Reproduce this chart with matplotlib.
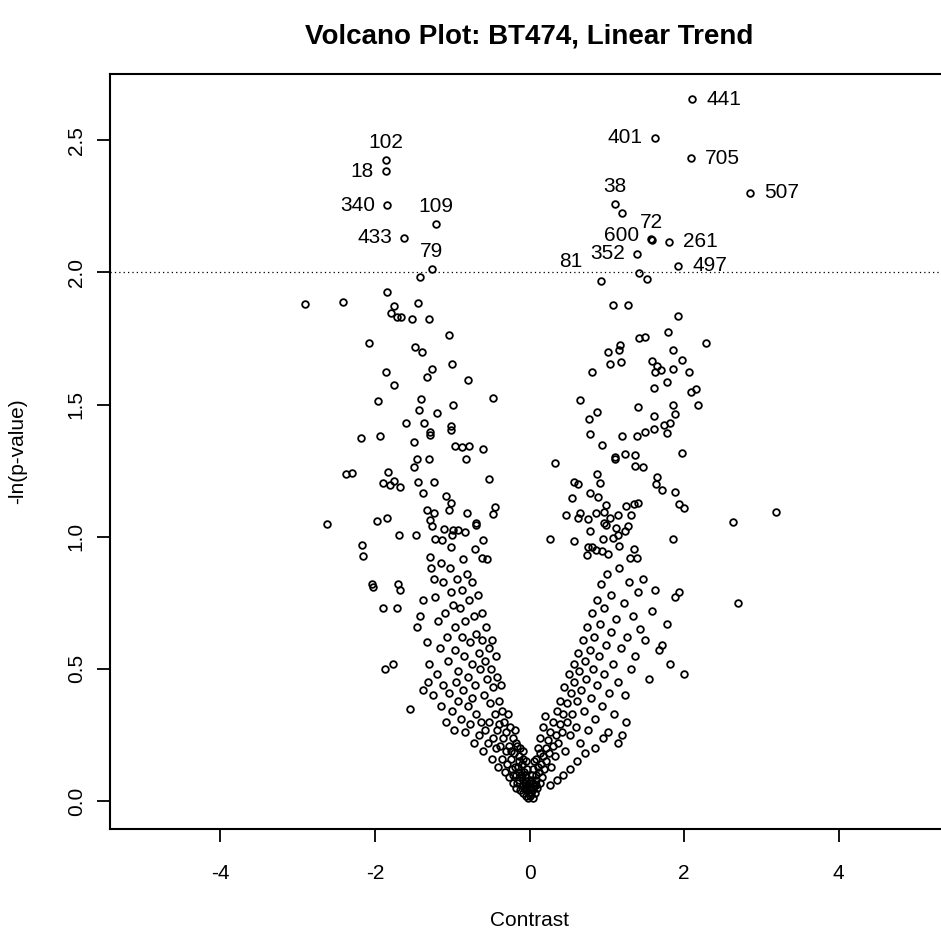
import matplotlib.pyplot as plt
import numpy as np

plt.rcParams['font.family'] = ['Liberation Sans', 'DejaVu Sans']
plt.rcParams['axes.unicode_minus'] = False

# contrast / -ln(p) for every probe (unlabelled ones)
points = [
    (-1.417, 1.981), (-1.847, 1.926), (-2.904, 1.880), (-2.409, 1.888), (-1.749, 1.872),
    (-1.792, 1.848), (-1.718, 1.832), (-1.666, 1.832), (-1.524, 1.822), (-1.446, 1.885),
    (-1.300, 1.822), (-1.041, 1.762), (-2.072, 1.732), (-1.485, 1.717), (-1.391, 1.699),
    (-1.006, 1.652), (-1.853, 1.624), (-1.257, 1.635), (-1.330, 1.605), (-0.796, 1.591),
    (-1.757, 1.572), (-0.472, 1.525), (-1.960, 1.513), (-1.408, 1.519), (-1.426, 1.479),
    (-0.986, 1.497), (-1.201, 1.469), (-1.594, 1.430), (-1.369, 1.430), (-1.287, 1.397),
    (-1.287, 1.384), (-1.019, 1.418), (-1.019, 1.402), (-2.176, 1.374), (-1.934, 1.380),
    (-1.498, 1.358), (-0.968, 1.343), (-0.873, 1.339), (-0.787, 1.344), (-0.602, 1.332),
    (-1.455, 1.293), (-1.304, 1.293), (-0.825, 1.293), (-1.498, 1.263), (0.334, 1.278),
    (-2.378, 1.237), (-2.300, 1.242), (-1.827, 1.243), (-1.895, 1.204), (-1.809, 1.196),
    (-1.757, 1.210), (-1.675, 1.188), (-1.439, 1.205), (-1.235, 1.205), (-0.528, 1.217),
    (-1.382, 1.166), (-1.084, 1.155), (-1.012, 1.128), (-1.038, 1.101), (-1.326, 1.101),
    (-1.239, 1.090), (-0.809, 1.090), (-0.446, 1.113), (-0.468, 1.084), (-0.696, 1.053),
    (-0.696, 1.045), (-1.291, 1.062), (-1.265, 1.041), (-1.106, 1.029), (-0.986, 1.025),
    (-0.921, 1.025), (-0.838, 1.017), (-0.999, 1.006), (-2.620, 1.049), (-1.973, 1.060),
    (-1.843, 1.071), (-1.692, 1.005), (-1.472, 1.005), (-1.226, 0.990), (-1.128, 0.986),
    (-1.012, 0.962), (-0.709, 0.953), (-0.598, 0.986), (-2.171, 0.967), (-2.150, 0.928),
    (-1.287, 0.922), (-0.856, 0.915), (-0.618, 0.919), (-0.554, 0.915), (0.261, 0.992),
    (0.580, 0.982), (0.546, 1.146), (0.580, 1.208), (0.631, 1.198), (0.468, 1.082),
    (0.624, 1.069), (0.650, 1.517),
    (1.193, 2.225), (1.417, 1.996), (1.524, 1.974), (1.076, 1.876), (1.270, 1.876),
    (1.917, 1.834),
    (1.792, 1.773), (2.283, 1.733), (1.417, 1.750), (1.498, 1.755), (1.175, 1.727),
    (1.158, 1.708), (1.019, 1.699), (1.853, 1.706), (1.038, 1.655), (1.180, 1.660),
    (0.812, 1.623), (1.585, 1.663), (1.646, 1.646), (1.697, 1.629), (1.627, 1.623),
    (1.853, 1.634), (1.973, 1.667), (2.063, 1.624), (1.611, 1.561), (1.783, 1.584),
    (2.085, 1.546), (2.154, 1.557), (2.180, 1.497), (0.877, 1.472), (0.766, 1.445),
    (1.400, 1.490), (1.856, 1.498), (1.878, 1.463), (1.611, 1.456), (1.736, 1.423),
    (1.821, 1.429), (0.787, 1.389), (1.197, 1.379), (1.387, 1.380), (1.498, 1.397),
    (1.615, 1.408), (1.783, 1.391), (0.934, 1.346), (1.106, 1.302), (1.106, 1.295),
    (1.239, 1.314), (1.369, 1.309), (1.973, 1.315), (1.369, 1.268), (1.464, 1.263),
    (0.877, 1.237), (0.912, 1.203), (1.653, 1.225), (1.633, 1.198), (1.710, 1.175),
    (1.878, 1.170), (0.783, 1.164), (0.882, 1.152), (0.990, 1.121), (1.248, 1.116),
    (1.356, 1.123), (1.400, 1.127), (1.934, 1.123), (1.999, 1.109), (0.657, 1.088),
    (0.753, 1.068), (0.860, 1.088), (0.968, 1.094), (1.041, 1.069), (1.149, 1.082),
    (1.313, 1.082), (0.968, 1.050), (0.986, 1.043), (1.115, 1.031), (1.278, 1.040),
    (1.239, 1.020), (1.141, 1.007), (1.084, 0.995), (0.787, 1.022), (2.636, 1.055),
    (3.185, 1.094), (0.955, 0.990), (1.162, 0.964), (1.352, 0.952), (1.860, 0.990),
    (0.753, 0.962), (0.805, 0.960), (0.860, 0.949), (0.934, 0.947), (1.019, 0.934),
    (0.740, 0.930), (1.300, 0.918), (1.387, 0.918),
    # lower part of the left arm
    (-2.04, 0.82), (-2.02, 0.81), (-1.89, 0.73), (-1.72, 0.73), (-1.70, 0.82),
    (-1.68, 0.80), (-1.87, 0.50), (-1.77, 0.52), (-1.55, 0.35),
    (-1.45, 0.66), (-1.42, 0.70), (-1.38, 0.76), (-1.33, 0.60), (-1.30, 0.52),
    (-1.27, 0.88), (-1.24, 0.84), (-1.22, 0.77), (-1.19, 0.68), (-1.16, 0.58),
    (-1.15, 0.90), (-1.12, 0.83), (-1.10, 0.71), (-1.07, 0.62), (-1.05, 0.53),
    (-1.03, 0.88), (-1.01, 0.79), (-0.99, 0.74), (-0.97, 0.66), (-0.96, 0.57),
    (-0.94, 0.84), (-0.92, 0.49), (-0.90, 0.73), (-0.88, 0.62), (-0.87, 0.80),
    (-0.85, 0.55), (-0.83, 0.68), (-0.81, 0.86), (-0.80, 0.47), (-0.78, 0.76),
    (-0.77, 0.60), (-0.75, 0.52), (-0.74, 0.83), (-0.72, 0.70), (-0.70, 0.44),
    (-0.69, 0.63), (-0.67, 0.78), (-0.66, 0.56), (-0.64, 0.50), (-0.62, 0.71),
    (-0.61, 0.61), (-0.59, 0.40), (-0.58, 0.53), (-0.56, 0.66), (-0.55, 0.46),
    (-0.53, 0.58), (-0.51, 0.37), (-0.50, 0.50), (-0.48, 0.61), (-0.47, 0.43),
    (-0.45, 0.33), (-0.44, 0.55), (-0.42, 0.47), (-0.40, 0.38), (-0.39, 0.29),
    (-0.37, 0.44), (-0.35, 0.34),
    (-1.38, 0.42), (-1.32, 0.45), (-1.25, 0.40), (-1.20, 0.48), (-1.15, 0.36),
    (-1.12, 0.44), (-1.08, 0.30), (-1.04, 0.41), (-1.00, 0.34), (-0.98, 0.27),
    (-0.95, 0.45), (-0.92, 0.38), (-0.89, 0.31), (-0.86, 0.42), (-0.83, 0.26),
    (-0.80, 0.36), (-0.77, 0.29), (-0.74, 0.39), (-0.72, 0.22), (-0.69, 0.33),
    (-0.66, 0.25), (-0.63, 0.30), (-0.60, 0.19), (-0.57, 0.27), (-0.54, 0.22),
    (-0.52, 0.30), (-0.49, 0.16), (-0.47, 0.24), (-0.44, 0.20), (-0.42, 0.27),
    (-0.41, 0.13), (-0.38, 0.21), (-0.36, 0.16), (-0.34, 0.24), (-0.32, 0.11),
    (-0.31, 0.19), (-0.29, 0.14), (-0.27, 0.21), (-0.26, 0.09), (-0.24, 0.16),
    (-0.23, 0.12), (-0.21, 0.07), (-0.20, 0.18), (-0.18, 0.10), (-0.17, 0.05),
    (-0.15, 0.13), (-0.14, 0.08), (-0.12, 0.04), (-0.11, 0.10), (-0.09, 0.06),
    (-0.08, 0.03), (-0.06, 0.07), (-0.05, 0.02), (-0.03, 0.04), (-0.02, 0.01),
    (-0.01, 0.03), (-0.33, 0.30), (-0.30, 0.26), (-0.28, 0.33), (-0.25, 0.28),
    (-0.22, 0.24), (-0.19, 0.27), (-0.16, 0.21), (-0.13, 0.17), (-0.10, 0.14),
    (-0.07, 0.11), (-0.04, 0.09), (-0.02, 0.06), (-0.05, 0.15), (-0.08, 0.19),
    # dense core around zero
    (-0.22, 0.10), (-0.19, 0.13), (-0.16, 0.07), (-0.13, 0.11), (-0.10, 0.09),
    (-0.07, 0.05), (-0.04, 0.06), (-0.01, 0.05), (0.02, 0.03), (0.05, 0.07),
    (0.08, 0.10), (0.11, 0.13), (0.03, 0.10), (-0.03, 0.12), (-0.09, 0.16),
    (-0.12, 0.20), (0.06, 0.15), (0.09, 0.06), (-0.14, 0.15), (-0.18, 0.22),
    (0.00, 0.07), (-0.06, 0.10), (0.04, 0.05), (0.14, 0.18), (-0.24, 0.19),
    # lower part of the right arm
    (0.01, 0.02), (0.03, 0.04), (0.04, 0.01), (0.06, 0.06), (0.07, 0.03),
    (0.09, 0.08), (0.10, 0.05), (0.12, 0.11), (0.13, 0.07), (0.15, 0.14),
    (0.16, 0.09), (0.18, 0.17), (0.19, 0.12), (0.21, 0.20), (0.22, 0.15),
    (0.24, 0.23), (0.25, 0.18), (0.27, 0.26), (0.28, 0.13), (0.30, 0.21),
    (0.31, 0.30), (0.33, 0.17), (0.34, 0.25), (0.36, 0.34), (0.37, 0.22),
    (0.39, 0.29), (0.40, 0.38), (0.42, 0.26), (0.43, 0.33), (0.45, 0.43),
    (0.46, 0.19), (0.48, 0.30), (0.49, 0.37), (0.51, 0.48), (0.52, 0.25),
    (0.54, 0.41), (0.55, 0.33), (0.57, 0.52), (0.58, 0.45), (0.60, 0.28),
    (0.61, 0.38), (0.63, 0.56), (0.64, 0.49), (0.66, 0.22), (0.67, 0.42),
    (0.69, 0.61), (0.70, 0.34), (0.72, 0.53), (0.73, 0.46), (0.75, 0.66),
    (0.76, 0.27), (0.78, 0.57), (0.79, 0.39), (0.81, 0.71), (0.82, 0.50),
    (0.84, 0.62), (0.85, 0.31), (0.87, 0.76), (0.88, 0.44), (0.90, 0.55),
    (0.91, 0.67), (0.93, 0.82), (0.94, 0.36), (0.96, 0.48), (0.97, 0.73),
    (0.99, 0.59), (1.00, 0.86), (1.02, 0.26), (1.03, 0.41), (1.05, 0.64),
    (1.06, 0.78), (1.08, 0.52), (1.10, 0.33), (1.12, 0.69), (1.14, 0.45),
    (1.16, 0.88), (1.18, 0.58), (1.20, 0.25), (1.22, 0.75), (1.24, 0.40),
    (1.26, 0.62), (1.29, 0.83), (1.31, 0.50), (1.34, 0.70), (1.37, 0.55),
    (1.40, 0.79), (1.43, 0.65), (1.47, 0.84), (1.50, 0.61), (1.55, 0.46),
    (1.58, 0.72), (1.62, 0.80), (1.68, 0.57), (1.72, 0.59), (1.78, 0.67),
    (1.82, 0.52), (1.88, 0.77), (1.93, 0.79), (2.00, 0.48), (2.70, 0.75),
    (1.25, 0.30), (1.15, 0.22), (0.95, 0.24), (0.85, 0.20), (0.72, 0.18),
    (0.62, 0.15), (0.53, 0.12), (0.44, 0.10), (0.35, 0.08), (0.26, 0.06),
    (0.02, 0.08), (0.05, 0.12), (0.08, 0.16), (0.11, 0.20), (0.14, 0.24),
    (0.17, 0.28), (0.20, 0.32),
]
contrast = np.array([p[0] for p in points])
neg_log_p = np.array([p[1] for p in points])

# probes passing the cut-off, with their ids
gene_ids = ["102", "18", "340", "109", "433", "79", "441", "401", "705", "507",
            "38", "72", "600", "261", "352", "81", "497"]
gene_x = [-1.860, -1.860, -1.840, -1.213, -1.620, -1.265, 2.106, 1.620, 2.085, 2.853,
          1.106, 1.581, 1.578, 1.805, 1.387, 0.921, 1.925]
gene_y = [2.424, 2.383, 2.254, 2.181, 2.131, 2.011, 2.654, 2.510, 2.431, 2.301,
          2.258, 2.122, 2.125, 2.115, 2.071, 1.967, 2.025]
# where each id is written relative to its point (offset in points, alignment)
label_place = {"above": ((0, 13), "center"), "left": ((-8.5, 0), "right"),
               "leftup": ((-8.5, 2.5), "right"), "right": ((10, 0), "left"),
               "upleft": ((-13, 14), "right")}
gene_pos = ["above", "left", "left", "above", "left", "above", "right", "left", "right",
            "right", "above", "above", "leftup", "right", "left", "upleft", "right"]

cutoff = 2.0

fig = plt.figure(figsize=(9.41, 9.39), dpi=100)
ax = fig.add_axes([0.1169, 0.1171, 0.8916, 0.8040])

style = dict(ls="none", marker="o", ms=4.8, mfc="none", mec="black", mew=1.3)
ax.plot(contrast, neg_log_p, **style)
ax.plot(gene_x, gene_y, **style)
for gid, gx, gy, pos in zip(gene_ids, gene_x, gene_y, gene_pos):
    off, ha = label_place[pos]
    ax.annotate(gid, (gx, gy), xytext=off, textcoords="offset points",
                ha=ha, va="center", fontsize=15)

ax.axhline(cutoff, color="black", lw=0.9, ls=(0, (1, 2.5)))

ax.set_xlim(-5.43, 5.43)
ax.set_ylim(-0.106, 2.75)
ax.set_xticks([-4, -2, 0, 2, 4])
ax.set_yticks([0.0, 0.5, 1.0, 1.5, 2.0, 2.5])
ax.set_yticklabels(["0.0", "0.5", "1.0", "1.5", "2.0", "2.5"])
ax.tick_params(axis="both", length=9.5, width=1.3, labelsize=15)
ax.tick_params(axis="x", pad=16)
ax.tick_params(axis="y", pad=8)
for lab in ax.get_yticklabels():
    lab.set_rotation(90)
    lab.set_va("center")
for sp in ax.spines.values():
    sp.set_linewidth(1.5)

fig.text(0.5627, 1 - 36 / 939, "Volcano Plot: BT474, Linear Trend",
         ha="center", va="center", fontsize=20, fontweight="bold")
fig.text(0.5627, 1 - 920 / 939, "Contrast", ha="center", va="center", fontsize=15)
fig.text(18 / 941, 1 - 451 / 939, "-ln(p-value)", ha="center", va="center",
         rotation=90, fontsize=15)

fig.savefig("out.png", dpi=100)
